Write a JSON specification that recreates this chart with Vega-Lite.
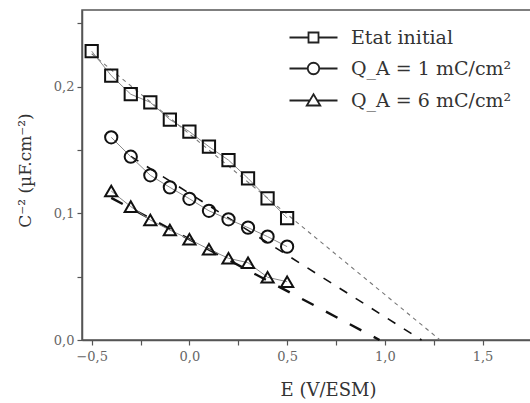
{
  "$schema": "https://vega.github.io/schema/vega-lite/v6.json",
  "width": 449,
  "height": 330,
  "autosize": {"type": "none"},
  "padding": {"left": 82, "top": 10, "right": 0, "bottom": 63},
  "background": "white",
  "config": {
    "view": {"stroke": "#555", "strokeWidth": 1.5},
    "axis": {
      "grid": false,
      "domainColor": "#555",
      "domainWidth": 1.5,
      "tickColor": "#555",
      "tickWidth": 1.2,
      "tickSize": 5,
      "labelFont": "DejaVu Serif",
      "labelFontSize": 13,
      "labelColor": "#666",
      "titleFont": "DejaVu Serif",
      "titleFontWeight": "normal",
      "titleColor": "#333"
    }
  },
  "datasets": {
    "pts": [
      {"series": "Etat initial", "E": -0.5, "C": 0.228},
      {"series": "Etat initial", "E": -0.4, "C": 0.2087},
      {"series": "Etat initial", "E": -0.3, "C": 0.194},
      {"series": "Etat initial", "E": -0.2, "C": 0.1876},
      {"series": "Etat initial", "E": -0.1, "C": 0.174},
      {"series": "Etat initial", "E": 0.0, "C": 0.1645},
      {"series": "Etat initial", "E": 0.1, "C": 0.1526},
      {"series": "Etat initial", "E": 0.2, "C": 0.142},
      {"series": "Etat initial", "E": 0.3, "C": 0.1276},
      {"series": "Etat initial", "E": 0.4, "C": 0.1118},
      {"series": "Etat initial", "E": 0.5, "C": 0.0963},
      {"series": "Q_A = 1 mC/cm²", "E": -0.4, "C": 0.160},
      {"series": "Q_A = 1 mC/cm²", "E": -0.3, "C": 0.1447},
      {"series": "Q_A = 1 mC/cm²", "E": -0.2, "C": 0.130},
      {"series": "Q_A = 1 mC/cm²", "E": -0.1, "C": 0.1205},
      {"series": "Q_A = 1 mC/cm²", "E": 0.0, "C": 0.1115},
      {"series": "Q_A = 1 mC/cm²", "E": 0.1, "C": 0.102},
      {"series": "Q_A = 1 mC/cm²", "E": 0.2, "C": 0.0953},
      {"series": "Q_A = 1 mC/cm²", "E": 0.3, "C": 0.0887},
      {"series": "Q_A = 1 mC/cm²", "E": 0.4, "C": 0.0816},
      {"series": "Q_A = 1 mC/cm²", "E": 0.5, "C": 0.0737},
      {"series": "Q_A = 6 mC/cm²", "E": -0.4, "C": 0.1176},
      {"series": "Q_A = 6 mC/cm²", "E": -0.3, "C": 0.1053},
      {"series": "Q_A = 6 mC/cm²", "E": -0.2, "C": 0.0947},
      {"series": "Q_A = 6 mC/cm²", "E": -0.1, "C": 0.0868},
      {"series": "Q_A = 6 mC/cm²", "E": 0.0, "C": 0.0795},
      {"series": "Q_A = 6 mC/cm²", "E": 0.1, "C": 0.0716},
      {"series": "Q_A = 6 mC/cm²", "E": 0.2, "C": 0.0645},
      {"series": "Q_A = 6 mC/cm²", "E": 0.3, "C": 0.061},
      {"series": "Q_A = 6 mC/cm²", "E": 0.4, "C": 0.0495},
      {"series": "Q_A = 6 mC/cm²", "E": 0.5, "C": 0.046}
    ],
    "fit": [
      {"series": "Etat initial", "E": -0.5, "C": 0.226},
      {"series": "Etat initial", "E": 1.283, "C": 0},
      {"series": "Q_A = 1 mC/cm²", "E": -0.3, "C": 0.145},
      {"series": "Q_A = 1 mC/cm²", "E": 1.188, "C": 0},
      {"series": "Q_A = 6 mC/cm²", "E": -0.4, "C": 0.1122},
      {"series": "Q_A = 6 mC/cm²", "E": 0.973, "C": 0}
    ]
  },
  "encoding": {
    "x": {
      "field": "E", "type": "quantitative",
      "scale": {"domain": [-0.5496, 1.748], "nice": false, "zero": false},
      "axis": {
        "values": [-0.5, -0.25, 0, 0.25, 0.5, 0.75, 1, 1.25, 1.5],
        "labelExpr": "(abs(datum.value*2 - round(datum.value*2)) < 0.01) ? replace(format(datum.value, '.1f'), '.', ',') : ''",
        "labelPadding": 5,
        "title": "E (V/ESM)",
        "titleFontSize": 18,
        "titleX": 246,
        "titleY": 50,
        "titleBaseline": "middle"
      }
    },
    "y": {
      "field": "C", "type": "quantitative",
      "scale": {"domain": [0, 0.2605], "nice": false},
      "axis": {
        "values": [0, 0.05, 0.1, 0.15, 0.2, 0.25],
        "labelExpr": "(abs(datum.value*10 - round(datum.value*10)) < 0.01) ? replace(format(datum.value, '.1f'), '.', ',') : ''",
        "labelPadding": 3,
        "title": "C⁻² (µF.cm⁻²)",
        "titleFontSize": 17,
        "titleX": -57,
        "titleY": 160,
        "titleBaseline": "middle",
        "titleAngle": -90
      }
    }
  },
  "layer": [
    {
      "data": {"name": "fit"},
      "transform": [{"filter": "datum.series === 'Etat initial'"}],
      "mark": {"type": "line", "stroke": "#777", "strokeWidth": 1.1, "strokeDash": [4, 4]},
      "encoding": {}
    },
    {
      "data": {"name": "fit"},
      "transform": [{"filter": "datum.series === 'Q_A = 1 mC/cm²'"}],
      "mark": {"type": "line", "stroke": "#111", "strokeWidth": 1.6, "strokeDash": [9, 10]},
      "encoding": {}
    },
    {
      "data": {"name": "fit"},
      "transform": [{"filter": "datum.series === 'Q_A = 6 mC/cm²'"}],
      "mark": {"type": "line", "stroke": "#111", "strokeWidth": 2.4, "strokeDash": [13, 14]},
      "encoding": {}
    },
    {
      "data": {"name": "pts"},
      "mark": {"type": "line", "stroke": "#888", "strokeWidth": 1},
      "encoding": {"detail": {"field": "series"}}
    },
    {
      "data": {"name": "pts"},
      "mark": {"type": "point", "filled": false, "stroke": "#111", "strokeWidth": 2, "size": 150, "opacity": 1},
      "encoding": {
        "shape": {
          "field": "series", "type": "nominal",
          "scale": {"domain": ["Etat initial", "Q_A = 1 mC/cm²", "Q_A = 6 mC/cm²"], "range": ["square", "circle", "triangle-up"]},
          "legend": null
        }
      }
    },
    {
      "data": {"name": "pts"},
      "mark": {"type": "point", "filled": false, "stroke": "#222", "strokeWidth": 1.8, "opacity": 0},
      "encoding": {
        "shape": {
          "field": "series", "type": "nominal",
          "scale": {
            "domain": ["Etat initial", "Q_A = 1 mC/cm²", "Q_A = 6 mC/cm²"],
            "range": [
              "M-4.8,0H-1M1,0H4.8M-1,-1H1V1H-1Z",
              "M-4.8,0H-1.15M1.15,0H4.8M-1.15,0A1.15,1.15 0 1,0 1.15,0A1.15,1.15 0 1,0 -1.15,0Z",
              "M-4.8,0H-0.72M0.72,0H4.8M0,-1.25L1.35,1L-1.35,1Z"
            ]
          },
          "legend": {
            "title": null,
            "orient": "none",
            "legendX": 222,
            "legendY": 18,
            "padding": 0,
            "symbolSize": 100,
            "symbolOpacity": 1,
            "symbolStrokeColor": "#222",
            "symbolFillColor": "transparent",
            "symbolStrokeWidth": 1.8,
            "labelFont": "DejaVu Serif",
            "labelFontSize": 19,
            "labelColor": "#333",
            "labelOffset": 28,
            "labelLimit": 300,
            "rowPadding": 11
          }
        }
      }
    }
  ],
  "resolve": {"scale": {"shape": "independent"}, "legend": {"shape": "independent"}}
}
